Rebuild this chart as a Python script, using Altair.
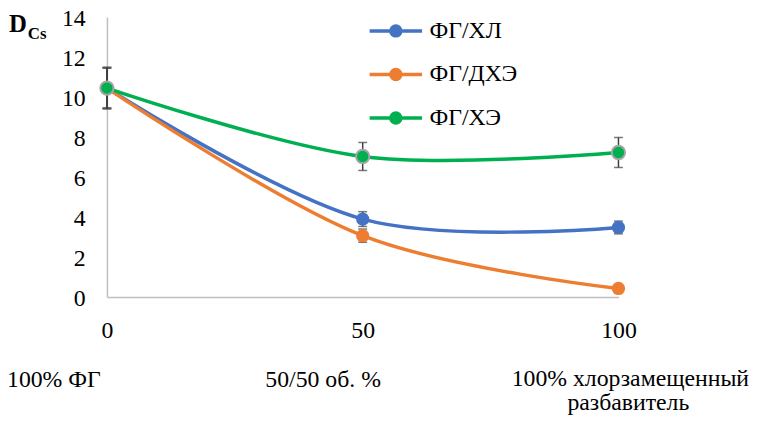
import altair as alt
import pandas as pd

# ---- data ----
x_values = [0, 50, 100]
series_names = ["ФГ/ХЛ", "ФГ/ДХЭ", "ФГ/ХЭ"]
hl_values = [10.45, 3.9, 3.48]
hl_errors = [1.0, 0.37, 0.32]
dhe_values = [10.45, 3.07, 0.43]
dhe_errors = [1.0, 0.33, 0.1]
he_values = [10.45, 7.03, 7.23]
he_errors = [1.05, 0.7, 0.75]
series_colors = ["#4472C4", "#ED7D31", "#00B050"]
y_ticks = [0, 2, 4, 6, 8, 10, 12, 14]
x_ticks = [0, 50, 100]
note_left = "100% ФГ"
note_mid = "50/50 об. %"
note_right_1 = "100% хлорзамещенный"
note_right_2 = "разбавитель"
y_label_main = "D"
y_label_sub = "Cs"

rows = []
for name, vals, errs in zip(series_names,
                            [hl_values, dhe_values, he_values],
                            [hl_errors, dhe_errors, he_errors]):
    for xv, v, e in zip(x_values, vals, errs):
        rows.append({"series": name, "x": xv, "y": v, "lo": v - e, "hi": v + e})
df = pd.DataFrame(rows)

FONT = "Liberation Serif"
color_scale = alt.Scale(domain=series_names, range=series_colors)
xs = alt.X("x:Q", scale=alt.Scale(domain=[0, 100], nice=False),
           axis=alt.Axis(values=x_ticks, title=None, labelPadding=22,
                         labelFlush=False))
ys = alt.Y("y:Q", scale=alt.Scale(domain=[0, 14], nice=False),
           axis=alt.Axis(values=y_ticks, title=None, labelPadding=22,
                         labelFlush=False, labelOffset=1.5))

sym_path = ("M-2.65,0H2.65M0.5,0A0.5,0.5,0,1,1,-0.5,0A0.5,0.5,0,1,1,0.5,0Z")
legend = alt.Legend(
    orient="none", legendX=280, legendY=2, title=None,
    symbolType=sym_path, symbolSize=400, symbolStrokeWidth=3.5,
    labelFont=FONT, labelFontSize=24, labelColor="black",
    labelOffset=22, rowPadding=20, labelLimit=300,
)

base = alt.Chart(df)

lines = base.mark_line(interpolate="cardinal", strokeWidth=3.5).encode(
    x=xs, y=ys,
    stroke=alt.Stroke("series:N", scale=color_scale, legend=legend),
    order=alt.Order("x:Q"),
)

errs = base.mark_errorbar(
    ticks={"size": 9, "thickness": 1.5, "color": "#404040"},
    color="#404040", thickness=1.5,
).encode(
    x=alt.X("x:Q"),
    y=alt.Y("lo:Q", title=None),
    y2="hi:Q",
    detail="series:N",
)

points = base.mark_point(filled=True, size=180, opacity=1).encode(
    x=alt.X("x:Q"), y=alt.Y("y:Q"),
    fill=alt.Fill("series:N", scale=color_scale, legend=legend),
)

outline = base.transform_filter(alt.datum.series == series_names[2]).mark_point(
    filled=False, size=180, stroke="#A5A5A5", strokeWidth=2, opacity=1
).encode(x=alt.X("x:Q"), y=alt.Y("y:Q"))

one = pd.DataFrame({"k": [0]})
def note(text, x, y, align="center", size=24, weight="normal"):
    return alt.Chart(one).mark_text(
        font=FONT, fontSize=size, fontWeight=weight, color="black",
        align=align, baseline="alphabetic",
    ).encode(x=alt.value(x), y=alt.value(y), text=alt.value(text))

notes = [
    note(note_left, -101, 374, align="left"),
    note(note_mid, 218.5, 374),
    note(note_right_1, 649, 373, align="right"),
    note(note_right_2, 527, 397),
    note(y_label_main, -99, 15, align="left", size=25, weight="bold"),
    note(y_label_sub, -80, 22, align="left", size=17, weight="bold"),
]

chart = alt.layer(lines, errs, points, outline, *notes).properties(
    width=517, height=283,
    autosize=alt.AutoSizeParams(type="none"),
    padding={"left": 100, "top": 7, "right": 137, "bottom": 117},
).configure_view(stroke=None).configure_axis(
    grid=False, ticks=False, domainColor="#BFBFBF", domainWidth=1.5,
    labelFont=FONT, labelFontSize=24, labelColor="black",
).configure_axisX(labelBaseline="top")

chart.save("out.html", embed_options={"renderer": "svg", "actions": False})
